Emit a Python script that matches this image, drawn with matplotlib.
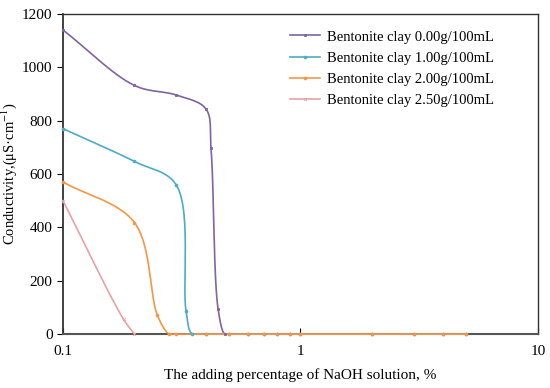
import matplotlib
matplotlib.use("Agg")
import matplotlib.pyplot as plt
import numpy as np
from matplotlib.lines import Line2D

plt.rcParams["font.family"] = ["Liberation Serif", "DejaVu Serif"]
plt.rcParams["mathtext.fontset"] = "stix"

TAIL_X = [0.5, 0.6, 0.7, 0.8, 0.9, 1, 2, 3, 4, 5]

x_000 = [0.1, 0.2, 0.3, 0.4, 0.42, 0.45, 0.48] + TAIL_X
y_000 = [1140, 932, 896, 844, 697, 94, 0] + [0] * len(TAIL_X)
x_100 = [0.1, 0.2, 0.3, 0.33, 0.35, 0.4] + TAIL_X
y_100 = [770, 647, 559, 85, 0, 0] + [0] * len(TAIL_X)
x_200 = [0.1, 0.2, 0.25, 0.28, 0.3, 0.4] + TAIL_X
y_200 = [570, 418, 70, 0, 0, 0] + [0] * len(TAIL_X)
x_250 = [0.1, 0.18, 0.2]
y_250 = [500, 55, 0]

LABELS = ["Bentonite clay 0.00g/100mL", "Bentonite clay 1.00g/100mL",
          "Bentonite clay 2.00g/100mL", "Bentonite clay 2.50g/100mL"]
COLORS = ["#8064A2", "#4BACC6", "#F79646", "#E6A3A3"]
MARKERS = ["s", "o", "o", "x"]


def smooth(xs, ys, n=30):
    # centripetal Catmull-Rom, worked out in (roughly) screen units
    sxk, syk = 237.5, 320 / 1200
    P = np.column_stack([np.log10(xs) * sxk, np.asarray(ys, float) * syk])
    P = np.vstack([2 * P[0] - P[1], P, 2 * P[-1] - P[-2]])
    out = []
    for i in range(1, len(P) - 2):
        p0, p1, p2, p3 = P[i - 1], P[i], P[i + 1], P[i + 2]
        t0 = 0.0
        t1 = t0 + max(np.linalg.norm(p1 - p0), 1e-6) ** 0.5
        t2 = t1 + max(np.linalg.norm(p2 - p1), 1e-6) ** 0.5
        t3 = t2 + max(np.linalg.norm(p3 - p2), 1e-6) ** 0.5
        t = np.linspace(t1, t2, n)[:, None]
        a1 = (t1 - t) / (t1 - t0) * p0 + (t - t0) / (t1 - t0) * p1
        a2 = (t2 - t) / (t2 - t1) * p1 + (t - t1) / (t2 - t1) * p2
        a3 = (t3 - t) / (t3 - t2) * p2 + (t - t2) / (t3 - t2) * p3
        b1 = (t2 - t) / (t2 - t0) * a1 + (t - t0) / (t2 - t0) * a2
        b2 = (t3 - t) / (t3 - t1) * a2 + (t - t1) / (t3 - t1) * a3
        out.append((t2 - t) / (t2 - t1) * b1 + (t - t1) / (t2 - t1) * b2)
    out = np.vstack(out)
    return 10 ** (out[:, 0] / sxk), np.clip(out[:, 1] / syk, 0, None)


fig = plt.figure(figsize=(5.5, 3.88), dpi=100)
ax = fig.add_axes([0.1145, 0.139, 0.8635, 0.825])

series = [(x_000, y_000), (x_100, y_100), (x_200, y_200), (x_250, y_250)]
for (xs, ys), c, m in zip(series, COLORS, MARKERS):
    sx, sy = smooth(xs, ys)
    ax.plot(sx, sy, color=c, lw=1.2, clip_on=False, zorder=3)
    ax.plot(xs, ys, ls="none", marker=m, color=c, ms=2, mew=0.6,
            clip_on=False, zorder=4)

ax.set_xscale("log")
ax.set_xlim(0.1, 10)
ax.set_ylim(0, 1200)
ax.set_xticks([0.1, 1, 10])
ax.set_xticklabels(["0.1", "1", "10"])
ax.xaxis.set_minor_locator(matplotlib.ticker.NullLocator())
ax.set_yticks(range(0, 1201, 200))
ax.tick_params(axis="x", direction="in", length=4, labelsize=11, pad=8)
ax.tick_params(axis="y", direction="out", length=4, labelsize=11)
for s in ax.spines.values():
    s.set_color("#333333")
    s.set_linewidth(1.0)
ax.spines["bottom"].set_linewidth(1.5)
ax.spines["bottom"].set_color("#555555")
ax.spines["left"].set_linewidth(1.3)

ax.set_xlabel("The adding percentage of NaOH solution, %", fontsize=11, labelpad=7)
ax.set_ylabel("Conductivity,(μS·cm$^{-1}$)", fontsize=10.5, labelpad=2)

handles = [Line2D([], [], color=c, marker=m, ms=2, mew=0.6, lw=1.2)
           for c, m in zip(COLORS, MARKERS)]
ax.legend(handles, LABELS, loc="upper right", bbox_to_anchor=(0.935, 0.99),
          frameon=False, fontsize=10.5, handlelength=2.0, handletextpad=0.5,
          labelspacing=0.55)

fig.savefig("out.png", dpi=100)
